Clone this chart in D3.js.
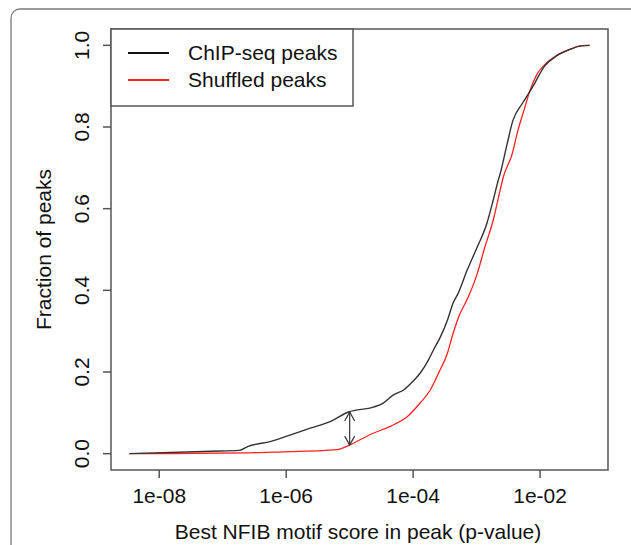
<!DOCTYPE html>
<html>
<head>
<meta charset="utf-8">
<script src="https://cdn.jsdelivr.net/npm/d3@7"></script>
<style>
  body { margin: 0; background: #fff; }
  svg text { font-family: "Liberation Sans", Arial, Helvetica, sans-serif; fill: #111; }
</style>
</head>
<body>
<svg id="chart"></svg>
<script>
// log10(p-value) and cumulative fraction
var chipLogP = [-8.47, -7.18, -6.74, -6.60, -6.24, -5.93, -5.61, -5.30, -5.02, -4.63, -4.47, -4.31, -4.15, -4.01,
  -3.89, -3.76, -3.68, -3.57, -3.46, -3.37, -3.29, -3.15, -2.99, -2.84, -2.74, -2.66, -2.63, -2.52, -2.43,
  -2.27, -2.11, -1.93, -1.74, -1.53, -1.38, -1.22]
var chipFrac = [0, 0.006, 0.008, 0.018, 0.030, 0.046, 0.063, 0.079, 0.102, 0.114, 0.124, 0.144, 0.156, 0.176,
  0.197, 0.229, 0.254, 0.286, 0.327, 0.369, 0.393, 0.449, 0.506, 0.563, 0.620, 0.669, 0.685, 0.758, 0.815,
  0.860, 0.900, 0.949, 0.974, 0.990, 0.998, 1.0]

var shufLogP = [-8.47, -6.60, -6.13, -5.19, -5.14, -4.99, -4.63, -4.36, -4.09, -3.89, -3.73, -3.60, -3.46, -3.37,
  -3.28, -3.13, -2.99, -2.87, -2.74, -2.63, -2.58, -2.44, -2.35, -2.24, -2.16, -2.05, -1.93, -1.74, -1.53, -1.38, -1.22]
var shufFrac = [0, 0.002, 0.004, 0.010, 0.012, 0.022, 0.050, 0.067, 0.091, 0.124, 0.156, 0.197, 0.246, 0.295,
  0.336, 0.384, 0.441, 0.506, 0.571, 0.645, 0.677, 0.734, 0.791, 0.848, 0.889, 0.929, 0.952, 0.975, 0.990, 0.998, 1.0]

var xTicks = [1e-8, 1e-6, 1e-4, 1e-2]
var xTickLabels = ['1e-08', '1e-06', '1e-04', '1e-02']
var yTicks = [0, 0.2, 0.4, 0.6, 0.8, 1.0]

var seriesNames = ['ChIP-seq peaks', 'Shuffled peaks']
var seriesColors = ['#333', '#ff2020']

// gap arrow between the two curves
var arrowP = 1e-5
var arrowTop = 0.102
var arrowBottom = 0.021

var width = 631, height = 545
var box = { left: 111, right: 608, top: 29, bottom: 470 }
var fontSize = 21

var svg = d3.select('#chart').attr('width', width).attr('height', height)

// outer frame, cut off at the right and bottom
svg.append('rect')
  .attr('x', 11).attr('y', 9)
  .attr('width', 660).attr('height', 600)
  .attr('rx', 9)
  .attr('fill', 'none')
  .attr('stroke', '#7a7a7a')
  .attr('stroke-width', 1.3)

// R style: 4% padding on each side of the data range
var xMin = d3.min(chipLogP), xMax = d3.max(chipLogP)
var xPad = (xMax - xMin) * 0.04
var x = d3.scaleLog()
  .domain([Math.pow(10, xMin - xPad), Math.pow(10, xMax + xPad)])
  .range([box.left, box.right])

var y = d3.scaleLinear()
  .domain([-0.04, 1.04])
  .range([box.bottom, box.top])

// plot box
svg.append('rect')
  .attr('x', box.left).attr('y', box.top)
  .attr('width', box.right - box.left).attr('height', box.bottom - box.top)
  .attr('fill', 'none')
  .attr('stroke', '#555')
  .attr('stroke-width', 1.5)

// x axis
var xAxis = svg.append('g')
xAxis.selectAll('line').data(xTicks).enter().append('line')
  .attr('x1', d => x(d)).attr('x2', d => x(d))
  .attr('y1', box.bottom).attr('y2', box.bottom + 8)
  .attr('stroke', '#555').attr('stroke-width', 1.5)
xAxis.selectAll('text').data(xTicks).enter().append('text')
  .attr('x', d => x(d)).attr('y', 503)
  .attr('text-anchor', 'middle')
  .attr('font-size', fontSize)
  .text((d, i) => xTickLabels[i])

// y axis
var yAxis = svg.append('g')
yAxis.selectAll('line').data(yTicks).enter().append('line')
  .attr('x1', box.left - 8).attr('x2', box.left)
  .attr('y1', d => y(d)).attr('y2', d => y(d))
  .attr('stroke', '#555').attr('stroke-width', 1.5)
yAxis.selectAll('text').data(yTicks).enter().append('text')
  .attr('transform', d => 'translate(89,' + y(d) + ') rotate(-90)')
  .attr('text-anchor', 'middle')
  .attr('font-size', fontSize)
  .text(d => d.toFixed(1))

// axis titles
svg.append('text')
  .attr('x', 358).attr('y', 539)
  .attr('text-anchor', 'middle')
  .attr('font-size', fontSize)
  .text('Best NFIB motif score in peak (p-value)')

svg.append('text')
  .attr('transform', 'translate(51,' + (box.top + box.bottom) / 2 + ') rotate(-90)')
  .attr('text-anchor', 'middle')
  .attr('font-size', fontSize)
  .text('Fraction of peaks')

// curves
var line = d3.line()
  .x(d => x(Math.pow(10, d[0])))
  .y(d => y(d[1]))
  .curve(d3.curveMonotoneX)

var series = [
  d3.zip(chipLogP, chipFrac),
  d3.zip(shufLogP, shufFrac)
]

// red first so black sits over it where they overlap at the top
svg.append('path')
  .datum(series[1])
  .attr('d', line)
  .attr('fill', 'none')
  .attr('stroke', seriesColors[1])
  .attr('stroke-width', 1.3)
svg.append('path')
  .datum(series[0])
  .attr('d', line)
  .attr('fill', 'none')
  .attr('stroke', seriesColors[0])
  .attr('stroke-width', 1.4)

// double headed arrow
var ax = x(arrowP), ay1 = y(arrowTop), ay2 = y(arrowBottom)
var arrow = svg.append('g').attr('stroke', '#333').attr('stroke-width', 1.2).attr('fill', 'none')
arrow.append('line').attr('x1', ax).attr('x2', ax).attr('y1', ay1).attr('y2', ay2)
arrow.append('path').attr('d', 'M' + (ax - 5) + ',' + (ay1 + 9) + 'L' + ax + ',' + ay1 + 'L' + (ax + 5) + ',' + (ay1 + 9))
arrow.append('path').attr('d', 'M' + (ax - 5) + ',' + (ay2 - 9) + 'L' + ax + ',' + ay2 + 'L' + (ax + 5) + ',' + (ay2 - 9))

// legend
var legend = svg.append('g')
legend.append('rect')
  .attr('x', box.left).attr('y', box.top)
  .attr('width', 242).attr('height', 77)
  .attr('fill', '#fff')
  .attr('stroke', '#555')
  .attr('stroke-width', 1.5)
seriesNames.forEach((name, i) => {
  var ly = 53 + i * 27
  legend.append('line')
    .attr('x1', 128).attr('x2', 169)
    .attr('y1', ly).attr('y2', ly)
    .attr('stroke', i === 0 ? '#111' : seriesColors[1])
    .attr('stroke-width', 2)
  legend.append('text')
    .attr('x', 188).attr('y', ly + 7)
    .attr('font-size', fontSize)
    .text(name)
})
</script>
</body>
</html>
